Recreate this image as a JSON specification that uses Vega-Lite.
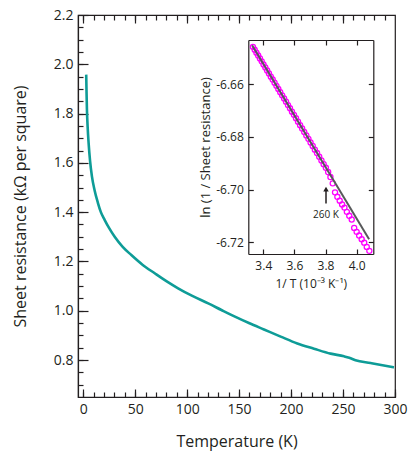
{
  "$schema": "https://vega.github.io/schema/vega-lite/v6.json",
  "width": 317,
  "height": 382,
  "autosize": {"type": "none"},
  "padding": {"left": 78, "top": 15, "right": 20, "bottom": 66},
  "background": "white",
  "config": {
    "view": {"stroke": "#231f20", "strokeWidth": 1.2},
    "axis": {"grid": false, "labelFlush": false, "domainColor": "#231f20", "domainWidth": 1.2, "tickColor": "#231f20", "tickWidth": 1.2, "labelColor": "#231f20", "titleColor": "#231f20", "labelFont": "Open Sans", "titleFont": "Open Sans", "titleFontWeight": "normal", "labelFontSize": 14, "titleFontSize": 16},
    "text": {"font": "Open Sans"}
  },
  "datasets": {
    "main": [
      {"T": 2.9, "R": 1.958}, {"T": 3.2, "R": 1.889}, {"T": 3.6, "R": 1.816}, {"T": 4.3, "R": 1.744},
      {"T": 5.2, "R": 1.681}, {"T": 6.6, "R": 1.608}, {"T": 8.4, "R": 1.545}, {"T": 11, "R": 1.488},
      {"T": 14.2, "R": 1.437}, {"T": 17, "R": 1.4}, {"T": 20.6, "R": 1.369}, {"T": 25, "R": 1.335},
      {"T": 30.3, "R": 1.3}, {"T": 38, "R": 1.259}, {"T": 46.3, "R": 1.226}, {"T": 57, "R": 1.187},
      {"T": 68.8, "R": 1.152}, {"T": 80, "R": 1.12}, {"T": 91.3, "R": 1.091}, {"T": 105, "R": 1.06},
      {"T": 120.3, "R": 1.03}, {"T": 133, "R": 1.003}, {"T": 146, "R": 0.976}, {"T": 160, "R": 0.949},
      {"T": 173.9, "R": 0.924}, {"T": 190, "R": 0.895}, {"T": 206, "R": 0.867}, {"T": 222, "R": 0.846},
      {"T": 238, "R": 0.826}, {"T": 251, "R": 0.815}, {"T": 256, "R": 0.809}, {"T": 262, "R": 0.799},
      {"T": 276.5, "R": 0.788}, {"T": 288, "R": 0.779}, {"T": 299, "R": 0.77}
    ],
    "pts": [
      {"X": 3.3333, "Y": -6.6458}, {"X": 3.3445, "Y": -6.6469}, {"X": 3.3557, "Y": -6.648}, {"X": 3.367, "Y": -6.6491},
      {"X": 3.3784, "Y": -6.6502}, {"X": 3.3898, "Y": -6.6513}, {"X": 3.4014, "Y": -6.6525}, {"X": 3.413, "Y": -6.6536},
      {"X": 3.4247, "Y": -6.6548}, {"X": 3.4364, "Y": -6.6559}, {"X": 3.4483, "Y": -6.6571}, {"X": 3.4602, "Y": -6.6582},
      {"X": 3.4722, "Y": -6.6594}, {"X": 3.4843, "Y": -6.6606}, {"X": 3.4965, "Y": -6.6618}, {"X": 3.5088, "Y": -6.663},
      {"X": 3.5211, "Y": -6.6642}, {"X": 3.5336, "Y": -6.6654}, {"X": 3.5461, "Y": -6.6666}, {"X": 3.5587, "Y": -6.6679},
      {"X": 3.5714, "Y": -6.6691}, {"X": 3.5842, "Y": -6.6704}, {"X": 3.5971, "Y": -6.6716}, {"X": 3.6101, "Y": -6.6729},
      {"X": 3.6232, "Y": -6.6742}, {"X": 3.6364, "Y": -6.6755}, {"X": 3.6496, "Y": -6.6768}, {"X": 3.663, "Y": -6.6781},
      {"X": 3.6765, "Y": -6.6794}, {"X": 3.69, "Y": -6.6807}, {"X": 3.7037, "Y": -6.6821}, {"X": 3.7175, "Y": -6.6834},
      {"X": 3.7313, "Y": -6.6848}, {"X": 3.7453, "Y": -6.6861}, {"X": 3.7594, "Y": -6.6875}, {"X": 3.7736, "Y": -6.6889},
      {"X": 3.7879, "Y": -6.6903}, {"X": 3.8023, "Y": -6.6917}, {"X": 3.8168, "Y": -6.6933}, {"X": 3.8314, "Y": -6.6952},
      {"X": 3.8462, "Y": -6.6976}, {"X": 3.861, "Y": -6.701}, {"X": 3.876, "Y": -6.7027}, {"X": 3.8911, "Y": -6.7042},
      {"X": 3.9063, "Y": -6.7056}, {"X": 3.9216, "Y": -6.7068}, {"X": 3.937, "Y": -6.7084}, {"X": 3.9526, "Y": -6.7099},
      {"X": 3.9683, "Y": -6.7113}, {"X": 3.9841, "Y": -6.7145}, {"X": 4.0, "Y": -6.716}, {"X": 4.0161, "Y": -6.7174},
      {"X": 4.0323, "Y": -6.7188}, {"X": 4.0486, "Y": -6.7201}, {"X": 4.065, "Y": -6.7217}, {"X": 4.0816, "Y": -6.7232}
    ],
    "fit": [{"X": 3.328, "Y": -6.6452}, {"X": 4.08, "Y": -6.7188}],
    "ann": [{"X": 3.803, "Y": -6.7097, "label": "260 K"}],
    "arrow": [{"X": 3.803, "Y": -6.7052, "Y2": -6.6998}]
  },
  "layer": [
    {
      "layer": [
        {
          "data": {"name": "main"},
          "mark": {"type": "line", "color": "#0e9c97", "strokeWidth": 2.6, "interpolate": "monotone"},
          "encoding": {
            "x": {"field": "T", "type": "quantitative", "scale": {"domain": [-5, 300], "nice": false, "zero": false},
                  "axis": {"orient": "bottom", "values": [0, 50, 100, 150, 200, 250, 300], "tickSize": -8, "labelPadding": 13, "title": "Temperature (K)", "titlePadding": 17}},
            "y": {"field": "R", "type": "quantitative", "scale": {"domain": [0.65, 2.2], "nice": false, "zero": false},
                  "axis": {"orient": "left", "values": [0.8, 1.0, 1.2, 1.4, 1.6, 1.8, 2.0, 2.2], "format": ".1f", "tickSize": -10, "labelPadding": 15, "title": "Sheet resistance (kΩ per square)", "titlePadding": 25}}
          }
        },
        {
          "data": {"name": "main"},
          "mark": {"type": "line", "opacity": 0},
          "encoding": {
            "x": {"field": "T", "type": "quantitative", "scale": {"domain": [-5, 300], "nice": false, "zero": false},
                  "axis": {"orient": "bottom", "values": [0, 10, 20, 30, 40, 50, 60, 70, 80, 90, 100, 110, 120, 130, 140, 150, 160, 170, 180, 190, 200, 210, 220, 230, 240, 250, 260, 270, 280, 290, 300], "tickSize": -5, "labels": false, "domain": false, "title": null}},
            "y": {"field": "R", "type": "quantitative", "scale": {"domain": [0.65, 2.2], "nice": false, "zero": false},
                  "axis": {"orient": "left", "values": [0.7, 0.75, 0.8, 0.85, 0.9, 0.95, 1.0, 1.05, 1.1, 1.15, 1.2, 1.25, 1.3, 1.35, 1.4, 1.45, 1.5, 1.55, 1.6, 1.65, 1.7, 1.75, 1.8, 1.85, 1.9, 1.95, 2.0, 2.05, 2.1, 2.15], "tickSize": -5, "labels": false, "domain": false, "title": null}}
          }
        },
        {
          "data": {"name": "main"},
          "mark": {"type": "line", "opacity": 0},
          "encoding": {
            "x": {"field": "T", "type": "quantitative", "scale": {"domain": [-5, 300], "nice": false, "zero": false},
                  "axis": {"orient": "top", "values": [0, 50, 100, 150, 200, 250], "tickSize": -8, "labels": false, "domain": false, "title": null}},
            "y": {"field": "R", "type": "quantitative", "scale": {"domain": [0.65, 2.2], "nice": false, "zero": false}, "axis": null}
          }
        },
        {
          "data": {"name": "main"},
          "mark": {"type": "line", "opacity": 0},
          "encoding": {
            "x": {"field": "T", "type": "quantitative", "scale": {"domain": [-5, 300], "nice": false, "zero": false},
                  "axis": {"orient": "top", "values": [0, 10, 20, 30, 40, 50, 60, 70, 80, 90, 100, 110, 120, 130, 140, 150, 160, 170, 180, 190, 200, 210, 220, 230, 240, 250, 260, 270, 280, 290], "tickSize": -5, "labels": false, "domain": false, "title": null}},
            "y": {"field": "R", "type": "quantitative", "scale": {"domain": [0.65, 2.2], "nice": false, "zero": false}, "axis": null}
          }
        }
      ],
      "resolve": {"axis": {"x": "independent", "y": "independent"}}
    },
    {
      "layer": [
        {
          "data": {"name": "pts"},
          "mark": {"type": "point", "shape": "circle", "filled": false, "stroke": "#ff00ff", "strokeWidth": 1.3, "size": 26, "opacity": 1},
          "encoding": {
            "x": {"field": "X", "type": "quantitative", "scale": {"domain": [3.3035, 4.107], "range": [170.3, 295.3], "nice": false, "zero": false},
                  "axis": {"orient": "bottom", "offset": -143, "values": [3.4, 3.6, 3.8, 4.0], "format": ".1f", "tickSize": -5, "labelPadding": 11, "labelFontSize": 12, "title": "1/ T (10⁻³ K⁻¹)", "titleFontSize": 12, "titlePadding": 7}},
            "y": {"field": "Y", "type": "quantitative", "scale": {"domain": [-6.7244, -6.6432], "range": [239, 25], "nice": false, "zero": false},
                  "axis": {"orient": "left", "offset": -170.3, "values": [-6.72, -6.7, -6.68, -6.66], "labelExpr": "replace(format(datum.value, '.2f'), '−', '-')", "tickSize": -5, "labelPadding": 10, "labelFontSize": 12, "title": "ln (1 / Sheet resistance)", "titleFontSize": 13, "titlePadding": 3}}
          }
        },
        {
          "data": {"name": "fit"},
          "mark": {"type": "line", "color": "#58595b", "strokeWidth": 2},
          "encoding": {
            "x": {"field": "X", "type": "quantitative", "scale": {"domain": [3.3035, 4.107], "range": [170.3, 295.3], "nice": false, "zero": false},
                  "axis": {"orient": "top", "offset": -25, "values": [3.4, 3.6, 3.8, 4.0], "tickSize": -5, "labels": false, "title": null}},
            "y": {"field": "Y", "type": "quantitative", "scale": {"domain": [-6.7244, -6.6432], "range": [239, 25], "nice": false, "zero": false},
                  "axis": {"orient": "right", "offset": -21.7, "values": [-6.72, -6.7, -6.68, -6.66], "tickSize": -5, "labels": false, "title": null}}
          }
        },
        {
          "data": {"name": "ann"},
          "mark": {"type": "text", "fontSize": 10, "color": "#231f20"},
          "encoding": {
            "x": {"field": "X", "type": "quantitative", "scale": {"domain": [3.3035, 4.107], "range": [170.3, 295.3], "nice": false, "zero": false}, "axis": null},
            "y": {"field": "Y", "type": "quantitative", "scale": {"domain": [-6.7244, -6.6432], "range": [239, 25], "nice": false, "zero": false}, "axis": null},
            "text": {"field": "label"}
          }
        },
        {
          "data": {"name": "arrow"},
          "mark": {"type": "rule", "color": "#231f20", "strokeWidth": 1.5},
          "encoding": {
            "x": {"field": "X", "type": "quantitative", "scale": {"domain": [3.3035, 4.107], "range": [170.3, 295.3], "nice": false, "zero": false}, "axis": null},
            "y": {"field": "Y", "type": "quantitative", "scale": {"domain": [-6.7244, -6.6432], "range": [239, 25], "nice": false, "zero": false}, "axis": null},
            "y2": {"field": "Y2"}
          }
        },
        {
          "data": {"name": "arrow"},
          "mark": {"type": "point", "shape": "triangle-up", "filled": true, "color": "#231f20", "size": 30, "opacity": 1},
          "encoding": {
            "x": {"field": "X", "type": "quantitative", "scale": {"domain": [3.3035, 4.107], "range": [170.3, 295.3], "nice": false, "zero": false}, "axis": null},
            "y": {"field": "Y2", "type": "quantitative", "scale": {"domain": [-6.7244, -6.6432], "range": [239, 25], "nice": false, "zero": false}, "axis": null}
          }
        }
      ],
      "resolve": {"axis": {"x": "independent", "y": "independent"}}
    }
  ],
  "resolve": {"scale": {"x": "independent", "y": "independent"}, "axis": {"x": "independent", "y": "independent"}}
}
